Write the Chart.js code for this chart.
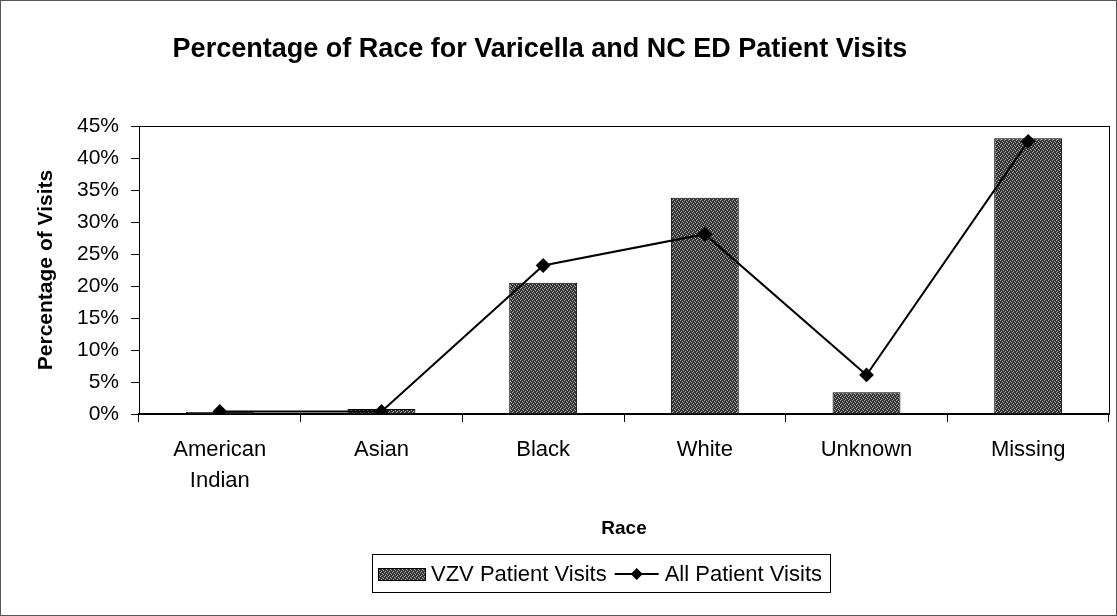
<!DOCTYPE html>
<html>
<head>
<meta charset="utf-8">
<script src="https://cdn.jsdelivr.net/npm/chart.js@4.4.0/dist/chart.umd.min.js"></script>
<style>
  html, body { margin: 0; padding: 0; background: #fff; }
  #wrap { width: 1117px; height: 616px; }
</style>
</head>
<body>
<div id="wrap"><canvas id="raceChart" width="1117" height="616"></canvas></div>
<script>
const races = [['American', 'Indian'], 'Asian', 'Black', 'White', 'Unknown', 'Missing'];
const vzvVisits = [0.3, 0.8, 20.5, 33.8, 3.4, 43.1];
const allVisits = [0.4, 0.4, 23.2, 28.1, 6.1, 42.6];
const yTicks = [0, 5, 10, 15, 20, 25, 30, 35, 40, 45];

const chartTitle = 'Percentage of Race for Varicella and NC ED Patient Visits';
const FONT = 'Arial, "Liberation Sans", Helvetica, sans-serif';

// grainy dark fill like the scanned bars
function barPattern() {
  const c = document.createElement('canvas');
  c.width = 4; c.height = 4;
  const g = c.getContext('2d');
  g.fillStyle = '#333';
  g.fillRect(0, 0, 4, 4);
  g.fillStyle = '#b0b0b0';
  g.fillRect(0, 0, 1, 1);
  g.fillRect(2, 1, 1, 1);
  g.fillRect(1, 3, 1, 1);
  g.fillRect(3, 2, 1, 1);
  return g.createPattern(c, 'repeat');
}

const canvas = document.getElementById('raceChart');
const ctx = canvas.getContext('2d');
const fill = barPattern();

// title, plot border, frame and boxed legend
const decor = {
  id: 'decor',
  afterDraw(chart) {
    const c = chart.ctx;
    const a = chart.chartArea;
    c.save();
    c.strokeStyle = '#000';
    c.lineWidth = 1;
    c.strokeRect(a.left + 0.5, a.top + 0.5, a.right - a.left, a.bottom - a.top);
    c.strokeStyle = '#555';
    c.strokeRect(0.5, 0.5, chart.width - 1, chart.height - 1);

    c.fillStyle = '#000';
    c.font = 'bold 27px ' + FONT;
    c.textAlign = 'center';
    c.textBaseline = 'middle';
    c.fillText(chartTitle, 540, 50);

    // legend: bar series first, then the line
    const bar = chart.data.datasets.find((d) => d.type !== 'line');
    const line = chart.data.datasets.find((d) => d.type === 'line');
    c.font = '22px ' + FONT;
    const w0 = c.measureText(bar.label).width;
    const w1 = c.measureText(line.label).width;
    const total = 6 + 47 + 6 + w0 + 8 + 44 + 6 + w1 + 8;
    const lx = 372;
    const ly = 574;
    c.strokeStyle = '#000';
    c.strokeRect(lx + 0.5, ly - 19.5, total, 38);
    let x = lx + 6;
    c.fillStyle = fill;
    c.fillRect(x, ly - 6, 47, 12);
    c.strokeRect(x + 0.5, ly - 5.5, 47, 12);
    x += 47 + 6;
    c.fillStyle = '#000';
    c.textAlign = 'left';
    c.fillText(bar.label, x, ly + 1);
    x += w0 + 8;
    c.lineWidth = 2;
    c.beginPath();
    c.moveTo(x, ly);
    c.lineTo(x + 44, ly);
    c.stroke();
    c.beginPath();
    c.moveTo(x + 22, ly - 6);
    c.lineTo(x + 28, ly);
    c.lineTo(x + 22, ly + 6);
    c.lineTo(x + 16, ly);
    c.closePath();
    c.fill();
    x += 44 + 6;
    c.fillText(line.label, x, ly + 1);
    c.restore();
  }
};

new Chart(ctx, {
  type: 'bar',
  data: {
    labels: races,
    datasets: [
      {
        type: 'line',
        label: 'All Patient Visits',
        data: allVisits,
        borderColor: '#000',
        backgroundColor: '#000',
        borderWidth: 2,
        pointStyle: 'rectRot',
        pointRadius: 6,
        pointHoverRadius: 6,
        tension: 0,
        order: 0,
      },
      {
        label: 'VZV Patient Visits',
        data: vzvVisits,
        backgroundColor: fill,
        borderColor: '#000',
        borderWidth: 1,
        categoryPercentage: 0.42,
        barPercentage: 1,
        order: 1,
      },
    ],
  },
  options: {
    responsive: false,
    animation: false,
    layout: { padding: { top: 126, right: 8, bottom: 74, left: 0 } },
    plugins: {
      legend: { display: false },
      title: { display: false },
      tooltip: { enabled: false },
    },
    scales: {
      x: {
        offset: true,
        grid: { offset: true, drawOnChartArea: false, drawTicks: true, tickLength: 8, color: '#000' },
        border: { color: '#000', width: 2 },
        ticks: { color: '#000', padding: 13, maxRotation: 0, font: { family: FONT, size: 22, lineHeight: 1.4 } },
        title: { display: true, text: 'Race', color: '#000', font: { family: FONT, size: 19, weight: 'bold' }, padding: { top: 16, bottom: 2 } },
        afterFit(scale) { scale.height = 128; },
      },
      y: {
        min: 0,
        max: 45,
        afterBuildTicks(scale) { scale.ticks = yTicks.map((v) => ({ value: v })); },
        grid: { drawOnChartArea: false, drawTicks: true, tickLength: 8, color: '#000' },
        border: { color: '#000', width: 1 },
        ticks: { color: '#000', padding: 12, font: { family: FONT, size: 21 }, callback: (v) => v + '%' },
        title: { display: true, text: 'Percentage of Visits', color: '#000', font: { family: FONT, size: 21, weight: 'bold' }, padding: { top: 34, bottom: 0 } },
        afterFit(scale) { scale.width = 139; },
      },
    },
  },
  plugins: [decor],
});
</script>
</body>
</html>
